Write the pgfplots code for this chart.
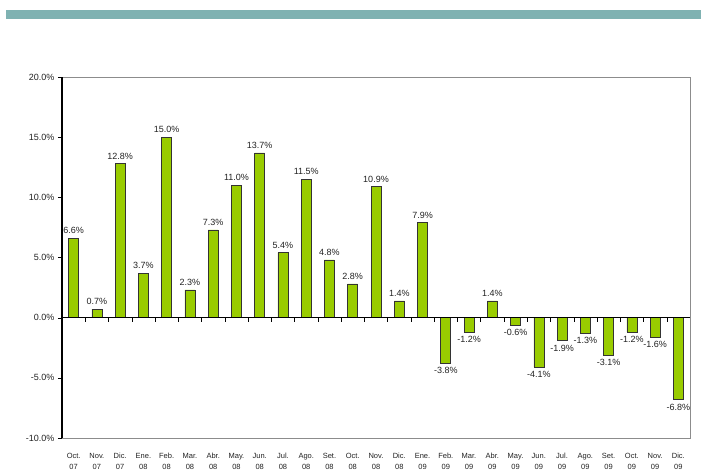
\documentclass[border=0pt]{standalone}
\usepackage{pgfplots}
\pgfplotsset{compat=1.18}
\usepackage{fontspec}
\setmainfont{Liberation Sans}
\definecolor{barg}{HTML}{99CC00}
\definecolor{band}{HTML}{7FB2B2}
\definecolor{txt}{HTML}{222222}
\begin{document}
\begin{tikzpicture}[x=1pt,y=1pt]
\useasboundingbox (0,0) rectangle (701,472);
\fill[band] (6,453) rectangle (701,462);
\begin{axis}[
  at={(62pt,34pt)}, anchor=south west,
  scale only axis, width=628pt, height=361pt,
  xmin=-0.5, xmax=26.5, ymin=-10, ymax=20,
  axis line style={draw=gray!90},
  xtick=data,
  xticklabels={{Oct.\\07},{Nov.\\07},{Dic.\\07},{Ene.\\08},{Feb.\\08},{Mar.\\08},{Abr.\\08},{May.\\08},{Jun.\\08},{Jul.\\08},{Ago.\\08},{Set.\\08},{Oct.\\08},{Nov.\\08},{Dic.\\08},{Ene.\\09},{Feb.\\09},{Mar.\\09},{Abr.\\09},{May.\\09},{Jun.\\09},{Jul.\\09},{Ago.\\09},{Set.\\09},{Oct.\\09},{Nov.\\09},{Dic.\\09}},
  x tick label style={font=\fontsize{7.5}{11}\selectfont, align=center, text=txt, yshift=-8pt},
  ytick={-10,-5,0,5,10,15,20},
  yticklabels={-10.0\%,-5.0\%,0.0\%,5.0\%,10.0\%,15.0\%,20.0\%},
  y tick label style={font=\fontsize{9}{10}\selectfont, text=txt},
  x tick style={draw=none},
  y tick style={black},
  tick align=outside, major tick length=4pt,
  ytick pos=left, xtick pos=bottom,
  clip=false,
]
\addplot[ybar, bar width=10pt, fill=barg, draw=black!80, line width=0.6pt,
  nodes near coords={\pgfmathprintnumber[fixed,fixed zerofill,precision=1,assume math mode=true]{\pgfplotspointmeta}\%},
  nodes near coords align={vertical},
  every node near coord/.append style={font=\fontsize{9}{10}\selectfont, text=txt, inner sep=4pt}]
coordinates {
(0,6.6) (1,0.7) (2,12.8) (3,3.7) (4,15.0) (5,2.3) (6,7.3) (7,11.0) (8,13.7)
(9,5.4) (10,11.5) (11,4.8) (12,2.8) (13,10.9) (14,1.4) (15,7.9) (16,-3.8)
(17,-1.2) (18,1.4) (19,-0.6) (20,-4.1) (21,-1.9) (22,-1.3) (23,-3.1) (24,-1.2)
(25,-1.6) (26,-6.8)};
\draw[black, line width=0.8pt] (axis cs:-0.5,0) -- (axis cs:26.5,0);
\pgfplotsinvokeforeach{0,...,25}{\draw[black] (axis cs:#1.5,0) -- ++(0pt,-4pt);}
\draw[black, line width=1.2pt] (axis cs:-0.5,-10) -- (axis cs:-0.5,20);
\end{axis}
\end{tikzpicture}
\end{document}
